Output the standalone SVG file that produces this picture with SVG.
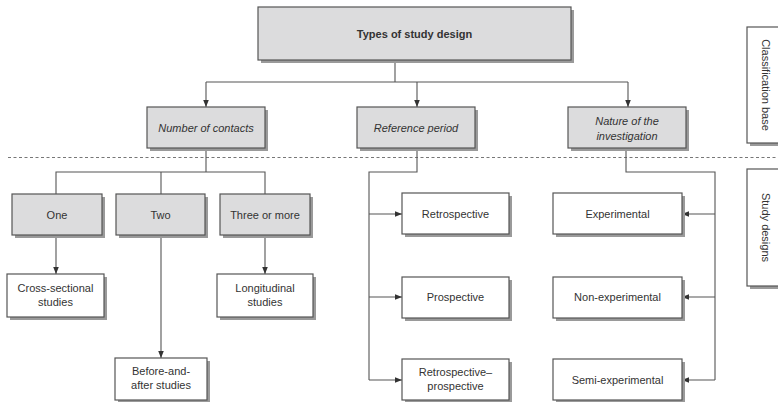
<svg xmlns="http://www.w3.org/2000/svg" width="778" height="402" viewBox="0 0 778 402">
<style>
.sh{fill:#9a9a9a;stroke:none}
.g{fill:#dcdcdd;stroke:#555;stroke-width:1.2}
.w{fill:#fff;stroke:#555;stroke-width:1.2}
text{font-family:"Liberation Sans",Arial,sans-serif;font-size:11px;fill:#333;text-anchor:middle}
.b{font-weight:bold}
.i{font-style:italic}
.ln{fill:none;stroke:#555;stroke-width:1.1}
.ar{fill:none;stroke:#555;stroke-width:1.1;marker-end:url(#ah)}
</style>
<defs>
<marker id="ah" viewBox="0 0 10 10" refX="10" refY="5" markerWidth="7" markerHeight="7" markerUnits="userSpaceOnUse" orient="auto">
<path d="M0,1 L10,5 L0,9 z" fill="#333"/>
</marker>
</defs>
<rect width="778" height="402" fill="#fff"/>
<line x1="8" y1="157.5" x2="778" y2="157.5" stroke="#777" stroke-width="1" stroke-dasharray="3,2.5"/>
<g id="connectors">
<polyline class="ln" points="395,60 395,82"/>
<polyline class="ln" points="206,82 628,82"/>
<polyline class="ar" points="206,82 206,107"/>
<polyline class="ar" points="417,82 417,107"/>
<polyline class="ar" points="628,82 628,107"/>
<polyline class="ln" points="206,148 206,172"/>
<polyline class="ln" points="56,194 56,172 265,172 265,194"/>
<polyline class="ln" points="161,172 161,194"/>
<polyline class="ar" points="56,235 56,274"/>
<polyline class="ar" points="161,235 161,358"/>
<polyline class="ar" points="265,235 265,274"/>
<polyline class="ln" points="417,148 417,172 369,172 369,380"/>
<polyline class="ar" points="369,214 402,214"/>
<polyline class="ar" points="369,297 402,297"/>
<polyline class="ar" points="369,380 402,380"/>
<polyline class="ln" points="626,148 626,172 715,172 715,380"/>
<polyline class="ar" points="715,214 682,214"/>
<polyline class="ar" points="715,297 682,297"/>
<polyline class="ar" points="715,380 682,380"/>
</g>
<g id="top"><rect class="sh" x="261" y="10" width="313" height="53"/><rect class="g" x="258" y="7" width="313" height="53"/><text class="b" x="414.5" y="37.5">Types of study design</text></g>
<g id="number"><rect class="sh" x="150" y="110" width="118" height="41"/><rect class="g" x="147" y="107" width="118" height="41"/><text class="i" x="206" y="131.5">Number of contacts</text></g>
<g id="reference"><rect class="sh" x="360" y="110" width="118" height="41"/><rect class="g" x="357" y="107" width="118" height="41"/><text class="i" x="416" y="131.5">Reference period</text></g>
<g id="nature"><rect class="sh" x="571" y="110" width="118" height="41"/><rect class="g" x="568" y="107" width="118" height="41"/><text class="i" x="627" y="124.5">Nature of the</text><text class="i" x="627" y="139.5">investigation</text></g>
<g id="one"><rect class="sh" x="15" y="197" width="90" height="41"/><rect class="g" x="12" y="194" width="90" height="41"/><text x="57" y="218.5">One</text></g>
<g id="two"><rect class="sh" x="119" y="197" width="89" height="41"/><rect class="g" x="116" y="194" width="89" height="41"/><text x="160.5" y="218.5">Two</text></g>
<g id="three"><rect class="sh" x="223" y="197" width="90" height="41"/><rect class="g" x="220" y="194" width="90" height="41"/><text x="265" y="218.5">Three or more</text></g>
<g id="cross"><rect class="sh" x="10" y="277" width="97" height="43"/><rect class="w" x="7" y="274" width="97" height="43"/><text x="55.5" y="292">Cross-sectional</text><text x="55.5" y="306">studies</text></g>
<g id="longitudinal"><rect class="sh" x="220" y="277" width="96" height="43"/><rect class="w" x="217" y="274" width="96" height="43"/><text x="265" y="292">Longitudinal</text><text x="265" y="306">studies</text></g>
<g id="before"><rect class="sh" x="118" y="361" width="92" height="42"/><rect class="w" x="115" y="358" width="92" height="42"/><text x="161" y="375">Before-and-</text><text x="161" y="389">after studies</text></g>
<g id="retrospective"><rect class="sh" x="405" y="196" width="107" height="41"/><rect class="w" x="402" y="193" width="107" height="41"/><text x="455.5" y="217.5">Retrospective</text></g>
<g id="prospective"><rect class="sh" x="405" y="280" width="107" height="41"/><rect class="w" x="402" y="277" width="107" height="41"/><text x="455.5" y="301">Prospective</text></g>
<g id="retropro"><rect class="sh" x="405" y="362" width="107" height="41"/><rect class="w" x="402" y="359" width="107" height="41"/><text x="455.5" y="376">Retrospective–</text><text x="455.5" y="390">prospective</text></g>
<g id="experimental"><rect class="sh" x="556" y="196" width="129" height="41"/><rect class="w" x="553" y="193" width="129" height="41"/><text x="617.5" y="217.5">Experimental</text></g>
<g id="nonexp"><rect class="sh" x="556" y="280" width="129" height="41"/><rect class="w" x="553" y="277" width="129" height="41"/><text x="617.5" y="301">Non-experimental</text></g>
<g id="semiexp"><rect class="sh" x="556" y="362" width="129" height="41"/><rect class="w" x="553" y="359" width="129" height="41"/><text x="617.5" y="384">Semi-experimental</text></g>
<g id="classification"><rect class="sh" x="750" y="30" width="40" height="116"/><rect class="w" x="747" y="27" width="40" height="116"/><text transform="translate(762,85) rotate(90)" x="0" y="0">Classification base</text></g>
<g id="studydesigns"><rect class="sh" x="750" y="172" width="40" height="117"/><rect class="w" x="747" y="169" width="40" height="117"/><text transform="translate(762,227.5) rotate(90)" x="0" y="0">Study designs</text></g>
</svg>
